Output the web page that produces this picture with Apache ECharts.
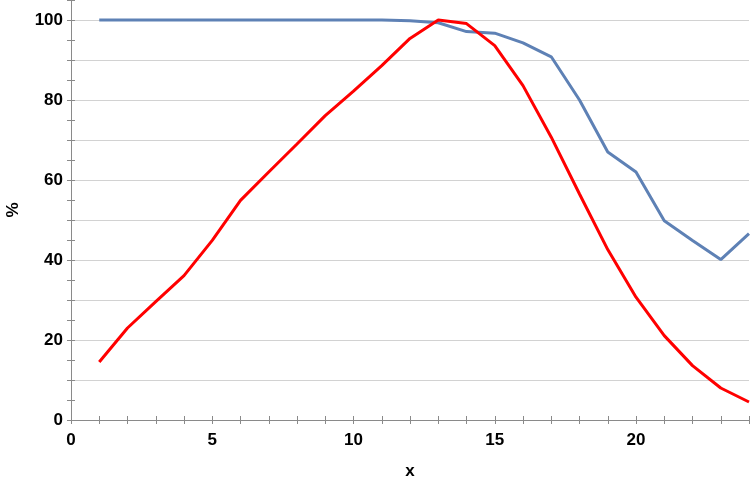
<!DOCTYPE html>
<html>
<head>
<meta charset="utf-8">
<script src="https://cdn.jsdelivr.net/npm/echarts@6/dist/echarts.min.js"></script>
<style>
  html, body { margin: 0; padding: 0; background: #fff; }
  #chart { width: 750px; height: 482px; }
</style>
</head>
<body>
<div id="chart"></div>
<script>
// x values 1..24
const xs = [1, 2, 3, 4, 5, 6, 7, 8, 9, 10, 11, 12, 13, 14, 15, 16, 17, 18, 19, 20, 21, 22, 23, 24];
const blueVals = [100, 100, 100, 100, 100, 100, 100, 100, 100, 100, 100, 99.8, 99.3, 97.1, 96.7, 94.3, 90.8, 80.0, 67.0, 62.0, 49.8, 44.9, 40.1, 46.6];
const redVals = [14.5, 23.0, 29.6, 36.1, 44.9, 54.9, 62.0, 69.0, 76.1, 82.2, 88.6, 95.4, 100, 99.1, 93.6, 83.6, 70.7, 56.5, 42.6, 30.7, 21.1, 13.6, 8.0, 4.5];
const xLabels = [0, 5, 10, 15, 20];
const yLabels = [0, 20, 40, 60, 80, 100];

const pairs = vals => xs.map((x, i) => [x, vals[i]]);

const labelFont = {
  fontFamily: '"Liberation Sans Narrow", "Liberation Sans", Arial, sans-serif',
  fontWeight: 'bold',
  fontSize: 17,
  color: '#000'
};
const frameLine = { show: true, lineStyle: { color: '#8a8a8a', width: 1 } };
const frameTick = { inside: true, length: 4, lineStyle: { color: '#8a8a8a' } };

const chart = echarts.init(document.getElementById('chart'));
chart.setOption({
  backgroundColor: '#fff',
  animation: false,
  grid: { left: 71, right: 1, top: 0, bottom: 62, outerBoundsMode: 'none', containLabel: false },
  xAxis: [{
    type: 'value', position: 'bottom', min: 0, max: 24, interval: 1,
    axisLine: frameLine,
    axisTick: frameTick,
    splitLine: { show: false },
    axisLabel: Object.assign({ margin: 12, formatter: v => xLabels.includes(v) ? String(v) : '' }, labelFont),
    name: 'x', nameLocation: 'middle', nameGap: 43,
    nameTextStyle: labelFont
  }, {
    type: 'value', position: 'top', min: 0, max: 24, interval: 1,
    axisLine: frameLine,
    axisTick: frameTick,
    splitLine: { show: false },
    axisLabel: { show: false }
  }],
  yAxis: [{
    type: 'value', position: 'left', min: 0, max: 105, interval: 5,
    axisLine: frameLine,
    axisTick: frameTick,
    splitLine: { show: true, lineStyle: { color: ['#d2d2d2', 'rgba(0,0,0,0)'], width: 1 } },
    axisLabel: Object.assign({ margin: 8, formatter: v => yLabels.includes(v) ? String(v) : '' }, labelFont),
    name: '%', nameLocation: 'middle', nameGap: 49, nameRotate: 90,
    nameTextStyle: labelFont
  }, {
    type: 'value', position: 'right', min: 0, max: 105, interval: 5,
    axisLine: frameLine,
    axisTick: frameTick,
    splitLine: { show: false },
    axisLabel: { show: false }
  }],
  series: [{
    type: 'line', data: pairs(blueVals), showSymbol: false, symbol: 'none',
    lineStyle: { color: '#5e81b5', width: 3 }, z: 3
  }, {
    type: 'line', data: pairs(redVals), showSymbol: false, symbol: 'none',
    lineStyle: { color: '#ff0000', width: 3 }, z: 4
  }]
});
</script>
</body>
</html>
